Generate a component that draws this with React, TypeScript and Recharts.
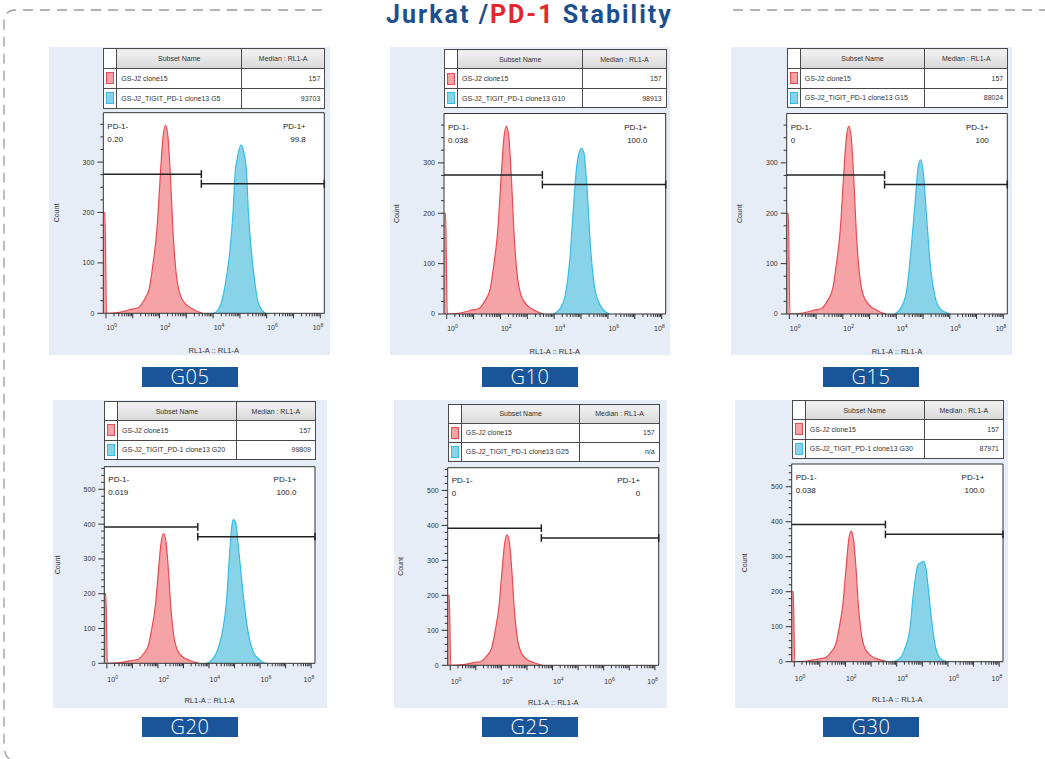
import React from 'react';
import {
  ComposedChart,
  Area,
  XAxis,
  YAxis,
  CartesianGrid,
  ReferenceLine,
  ReferenceArea,
  Label,
} from 'recharts';

// ---------------- DATA (x = log10 of RL1-A, y = count) ----------------
const panelIds = ['G05', 'G10', 'G15', 'G20', 'G25', 'G30'];
const controlName = 'GS-J2 clone15';
const controlMedian = '157';
const sampleNames = [
  'GS-J2_TIGIT_PD-1 clone13 G5',
  'GS-J2_TIGIT_PD-1 clone13 G10',
  'GS-J2_TIGIT_PD-1 clone13 G15',
  'GS-J2_TIGIT_PD-1 clone13 G20',
  'GS-J2_TIGIT_PD-1 clone13 G25',
  'GS-J2_TIGIT_PD-1 clone13 G30',
];
const sampleMedians = ['93703', '98913', '88024', '99809', 'n/a', '87971'];
const negPct = ['0.20', '0.038', '0', '0.019', '0', '0.038'];
const posPct = ['99.8', '100.0', '100', '100.0', '0', '100.0'];

// control (red) histogram, shared by every panel
const redLog = [-0.1, -0.04, 0.02, 0.5, 0.87, 1.2, 1.42, 1.62, 1.76, 1.9, 2.03, 2.12, 2.22, 2.31, 2.41, 2.5, 2.6, 2.76, 2.98, 3.25, 3.6];
const redCount = [200, 200, 0, 2, 7, 11, 26, 50, 100, 165, 275, 345, 373, 352, 268, 165, 90, 38, 18, 8, 0];

// sample (blue) histograms
const g05Log = [4.01, 4.19, 4.44, 4.63, 4.75, 4.82, 4.9, 5.04, 5.19, 5.25, 5.31, 5.4, 5.5, 5.69, 5.94];
const g05Count = [0, 7, 53, 127, 207, 278, 307, 334, 307, 278, 207, 140, 87, 20, 0];
const g10Log = [3.97, 4.22, 4.4, 4.59, 4.71, 4.84, 4.94, 5.02, 5.11, 5.21, 5.36, 5.52, 5.71, 5.89, 6.08];
const g10Count = [0, 11, 34, 114, 207, 293, 322, 329, 319, 260, 127, 48, 18, 5, 0];
const g15Log = [3.95, 4.2, 4.39, 4.57, 4.7, 4.82, 4.91, 5.01, 5.14, 5.29, 5.45, 5.63, 6.01];
const g15Count = [0, 15, 48, 140, 220, 293, 306, 280, 187, 87, 34, 11, 0];
const g20Log = [3.91, 4.17, 4.36, 4.56, 4.69, 4.79, 4.89, 4.95, 5.04, 5.15, 5.28, 5.41, 5.54, 5.73, 5.93, 6.12, 6.26];
const g20Count = [0, 14, 43, 105, 182, 296, 392, 413, 406, 335, 239, 153, 86, 33, 14, 2, 0];
const g25Log: number[] = [];
const g25Count: number[] = [];
const g30Log = [3.87, 4.13, 4.32, 4.52, 4.62, 4.71, 4.84, 4.94, 5.04, 5.14, 5.23, 5.37, 5.5, 5.69, 5.95];
const g30Count = [0, 10, 38, 96, 172, 230, 278, 283, 287, 268, 211, 115, 48, 10, 0];

const blueLogs = [g05Log, g10Log, g15Log, g20Log, g25Log, g30Log];
const blueCounts = [g05Count, g10Count, g15Count, g20Count, g25Count, g30Count];

// gate boundary (log10) and gate bar heights per row
const gateLog = 3.56;
const gateNegY = [276, 392];
const gatePosY = [257, 364];

// axis ticks
const xDomain = [-0.1, 8.15];
const xDecades = [0, 1, 2, 3, 4, 5, 6, 7, 8];
const xLabelled = [0, 2, 4, 6, 8];
const yMax = [398, 565];
const yMajor = [
  [0, 100, 200, 300],
  [0, 100, 200, 300, 400, 500],
];
const yMinorStep = [25, 20];

// ---------------- LAYOUT ----------------
type Box = { x: number; y: number; w: number; h: number };
type Layout = { bg: Box; plot: { l: number; t: number; r: number; b: number }; table: Box; tag: { x: number; y: number }; row: number };

const layouts: Layout[] = [
  { bg: { x: 49, y: 47, w: 281, h: 308 }, plot: { l: 103.3, t: 112.7, r: 324.3, b: 313.3 }, table: { x: 103.3, y: 48.3, w: 221, h: 59.4 }, tag: { x: 142, y: 367 }, row: 0 },
  { bg: { x: 390, y: 47, w: 280, h: 308 }, plot: { l: 444, t: 113.5, r: 665.7, b: 314 }, table: { x: 444, y: 49, w: 221.7, h: 58.5 }, tag: { x: 482, y: 367 }, row: 0 },
  { bg: { x: 731, y: 47, w: 281, h: 308 }, plot: { l: 786.7, t: 113.5, r: 1007.3, b: 314 }, table: { x: 786.7, y: 48.3, w: 220.6, h: 59 }, tag: { x: 823, y: 367 }, row: 0 },
  { bg: { x: 53, y: 400, w: 274, h: 308 }, plot: { l: 104.3, t: 466.7, r: 315, b: 663.3 }, table: { x: 104, y: 401, w: 211, h: 58 }, tag: { x: 142, y: 717 }, row: 1 },
  { bg: { x: 394, y: 400, w: 273, h: 308 }, plot: { l: 447.7, t: 467.7, r: 658.7, b: 665.3 }, table: { x: 447.7, y: 404, w: 211, h: 57 }, tag: { x: 482, y: 717 }, row: 1 },
  { bg: { x: 735, y: 400, w: 273, h: 308 }, plot: { l: 791.7, t: 464, r: 1003, b: 661.7 }, table: { x: 791.7, y: 400, w: 211.3, h: 58 }, tag: { x: 823, y: 717 }, row: 1 },
];

const FONT = '"Liberation Sans", Arial, Helvetica, sans-serif';
const RED_STROKE = '#ec4a52';
const RED_FILL = '#f5a3a6';
const BLUE_STROKE = '#35bde5';
const BLUE_FILL = '#88d3e8';
const PANEL_BG = '#e7edf6';

const xMinor: number[] = [];
for (let n = 0; n < 8; n++) for (let k = 2; k <= 9; k++) xMinor.push(n + Math.log10(k));
const xTicks = [...xDecades, ...xMinor].sort((a, b) => a - b);

const yTicksFor = (row: number) => {
  const t: number[] = [];
  for (let v = 0; v < yMax[row]; v += yMinorStep[row]) t.push(v);
  return t;
};

const makeXTick = (dy: number) => (props: any) => {
  const { x, y, payload } = props;
  const v = payload.value as number;
  const r = Math.round(v);
  const major = Math.abs(v - r) < 1e-6;
  const lab = major && xLabelled.includes(r);
  const last = r === 8;
  return (
    <g>
      <line x1={x} x2={x} y1={y} y2={y + (major ? 5 : 3)} stroke="#333" strokeWidth={1} />
      {lab && (
        <text x={last ? x + 3 : x + 0.5} y={y + dy} textAnchor={last ? 'end' : 'start'} fontSize={7} fill="#333" fontFamily={FONT}>
          10
          <tspan dy={-3} fontSize={5}>
            {r}
          </tspan>
        </text>
      )}
    </g>
  );
};

const makeYTick = (majors: number[]) => (props: any) => {
  const { x, y, payload } = props;
  const v = payload.value as number;
  const major = majors.includes(v);
  return (
    <g>
      <line x1={x - (major ? 6 : 3)} x2={x} y1={y} y2={y} stroke="#333" strokeWidth={1} />
      {major && (
        <text x={x - 9} y={y} dy="0.35em" textAnchor="end" fontSize={7} fill="#333" fontFamily={FONT}>
          {v}
        </text>
      )}
    </g>
  );
};

const xTitle = (props: any) => {
  const vb = props.viewBox || {};
  return (
    <text x={vb.x + vb.width / 2} y={vb.y + 40} textAnchor="middle" fontSize={7.5} fill="#333" fontFamily={FONT}>
      RL1-A :: RL1-A
    </text>
  );
};

const yTitle = (props: any) => {
  const vb = props.viewBox || {};
  const cx = vb.x + vb.width - 47;
  const cy = vb.y + vb.height / 2;
  return (
    <text x={cx} y={cy} transform={`rotate(-90 ${cx} ${cy})`} textAnchor="middle" dy="0.35em" fontSize={7} fill="#333" fontFamily={FONT}>
      Count
    </text>
  );
};

const gateText = (neg: string, pos: string, row: number) => (props: any) => {
  const vb = props.viewBox || {};
  const y1 = vb.y + (row === 0 ? 16 : 15.5);
  const y2 = vb.y + (row === 0 ? 29 : 28.5);
  const xr = vb.x + vb.width - 18.5;
  return (
    <g fontSize={8} fill="#222" fontFamily={FONT}>
      <text x={vb.x + 4} y={y1}>PD-1-</text>
      <text x={vb.x + 4} y={y2}>{neg}</text>
      <text x={xr} y={y1} textAnchor="end">PD-1+</text>
      <text x={xr} y={y2} textAnchor="end">{pos}</text>
    </g>
  );
};

function buildRows(i: number) {
  const rows: { x: number; red?: number; blue?: number }[] = [];
  redLog.forEach((x, k) => rows.push({ x, red: redCount[k] }));
  blueLogs[i].forEach((x, k) => rows.push({ x, blue: blueCounts[i][k] }));
  rows.sort((a, b) => a.x - b.x);
  return rows;
}

function Swatch({ stroke, fill }: { stroke: string; fill: string }) {
  return <div style={{ width: 6, height: 10, border: `1px solid ${stroke}`, background: fill, margin: '0 auto' }} />;
}

function LegendTable({ box, i }: { box: Box; i: number }) {
  const sw = 13;
  const nameW = (box.w - sw) * 0.6;
  const medW = box.w - sw - nameW;
  const hh = box.h * 0.33;
  const rh = (box.h - hh) / 2;
  const cell: React.CSSProperties = { border: '1px solid #4a4a4a', padding: '0 4px', whiteSpace: 'nowrap', overflow: 'hidden', color: '#333' };
  return (
    <table
      style={{
        position: 'absolute',
        left: box.x,
        top: box.y,
        width: box.w,
        height: box.h,
        borderCollapse: 'collapse',
        tableLayout: 'fixed',
        fontFamily: FONT,
        fontSize: 7,
        background: '#fff',
        border: '1.5px solid #444',
      }}
    >
      <colgroup>
        <col style={{ width: sw }} />
        <col style={{ width: nameW }} />
        <col style={{ width: medW }} />
      </colgroup>
      <tbody>
        <tr style={{ height: hh }}>
          <td style={{ ...cell, padding: 0, background: '#fff' }} />
          <td style={{ ...cell, textAlign: 'center', background: 'linear-gradient(#f2f2f2, #d9d9d9)' }}>Subset Name</td>
          <td style={{ ...cell, textAlign: 'center', background: 'linear-gradient(#f2f2f2, #d9d9d9)' }}>Median : RL1-A</td>
        </tr>
        <tr style={{ height: rh }}>
          <td style={{ ...cell, padding: 0 }}>
            <Swatch stroke={RED_STROKE} fill={RED_FILL} />
          </td>
          <td style={cell}>{controlName}</td>
          <td style={{ ...cell, textAlign: 'right' }}>{controlMedian}</td>
        </tr>
        <tr style={{ height: rh }}>
          <td style={{ ...cell, padding: 0 }}>
            <Swatch stroke={BLUE_STROKE} fill={BLUE_FILL} />
          </td>
          <td style={cell}>{sampleNames[i]}</td>
          <td style={{ ...cell, textAlign: 'right' }}>{sampleMedians[i]}</td>
        </tr>
      </tbody>
    </table>
  );
}

function Panel({ i }: { i: number }) {
  const L = layouts[i];
  const row = L.row;
  const { bg, plot } = L;
  const rows = buildRows(i);
  const hasBlue = blueLogs[i].length > 0;
  const cap = row === 0 ? 8 : 11;
  const gN = gateNegY[row];
  const gP = gatePosY[row];
  const gateStroke = '#222';
  return (
    <>
      <div style={{ position: 'absolute', left: bg.x, top: bg.y, width: bg.w, height: bg.h, background: PANEL_BG }} />
      <div style={{ position: 'absolute', left: bg.x, top: bg.y, width: bg.w, height: bg.h }}>
        <ComposedChart
          width={bg.w}
          height={bg.h}
          data={rows}
          margin={{ top: plot.t - bg.y, right: bg.x + bg.w - plot.r, bottom: 0, left: 0 }}
        >
          <CartesianGrid horizontal={false} vertical={false} fill="#ffffff" />
          <XAxis
            type="number"
            dataKey="x"
            domain={xDomain}
            allowDataOverflow
            ticks={xTicks}
            interval={0}
            tick={makeXTick(row === 0 ? 17 : 19)}
            tickLine={false}
            axisLine={false}
            tickSize={0}
            tickMargin={0}
            height={bg.y + bg.h - plot.b}
          >
            <Label content={xTitle} />
          </XAxis>
          <YAxis
            type="number"
            domain={[0, yMax[row]]}
            allowDataOverflow
            ticks={yTicksFor(row)}
            interval={0}
            tick={makeYTick(yMajor[row])}
            tickLine={false}
            axisLine={false}
            tickSize={0}
            tickMargin={0}
            width={plot.l - bg.x}
          >
            <Label content={yTitle} />
          </YAxis>
          <Area
            type="monotone"
            dataKey="red"
            stroke={RED_STROKE}
            strokeWidth={1.2}
            fill={RED_FILL}
            fillOpacity={1}
            connectNulls
            dot={false}
            activeDot={false}
            isAnimationActive={false}
          />
          {hasBlue && (
            <Area
              type="monotone"
              dataKey="blue"
              stroke={BLUE_STROKE}
              strokeWidth={1.2}
              fill={BLUE_FILL}
              fillOpacity={1}
              connectNulls
              dot={false}
              activeDot={false}
              isAnimationActive={false}
            />
          )}
          <ReferenceArea x1={xDomain[0]} x2={xDomain[1]} y1={0} y2={yMax[row]} fill="none" stroke="#333" strokeWidth={1} fillOpacity={0}>
            <Label content={gateText(negPct[i], posPct[i], row)} />
          </ReferenceArea>
          <ReferenceLine segment={[{ x: xDomain[0], y: gN }, { x: gateLog, y: gN }]} stroke={gateStroke} strokeWidth={1.5} />
          <ReferenceLine segment={[{ x: gateLog, y: gN - cap }, { x: gateLog, y: gN + cap }]} stroke={gateStroke} strokeWidth={1.5} />
          <ReferenceLine segment={[{ x: gateLog, y: gP }, { x: xDomain[1], y: gP }]} stroke={gateStroke} strokeWidth={1.5} />
          <ReferenceLine segment={[{ x: gateLog, y: gP - cap }, { x: gateLog, y: gP + cap }]} stroke={gateStroke} strokeWidth={1.5} />
          <ReferenceLine segment={[{ x: xDomain[1], y: gP - cap }, { x: xDomain[1], y: gP + cap }]} stroke={gateStroke} strokeWidth={1.5} />
        </ComposedChart>
      </div>
      <LegendTable box={L.table} i={i} />
      <div
        style={{
          position: 'absolute',
          left: L.tag.x,
          top: L.tag.y,
          width: 96,
          height: 20,
          background: '#1a5599',
          color: '#fff',
          fontFamily: '"Open Sans", sans-serif',
          fontWeight: 300,
          fontSize: 20,
          lineHeight: '20px',
          textAlign: 'center',
          letterSpacing: 0.5,
        }}
      >
        {panelIds[i]}
      </div>
    </>
  );
}

export default function App() {
  return (
    <div
      style={{
        position: 'absolute',
        left: 0,
        top: 0,
        width: 1045,
        height: 759,
        background: '#fff',
        overflow: 'hidden',
        fontFamily: FONT,
      }}
    >
      <svg width={1045} height={759} style={{ position: 'absolute', left: 0, top: 0 }}>
        <path
          d="M 322 10 L 16 10 Q 4 10 4 22 L 4 745 Q 4 762 20 762 L 1045 762"
          fill="none"
          stroke="#9a9a9a"
          strokeWidth={1.3}
          strokeDasharray="10 7"
        />
        <path d="M 733 10 L 1045 10" fill="none" stroke="#9a9a9a" strokeWidth={1.3} strokeDasharray="10 7" />
      </svg>
      <div
        style={{
          position: 'absolute',
          left: 7,
          top: 0,
          width: 1045,
          textAlign: 'center',
          fontFamily: 'Roboto, "Open Sans", sans-serif',
          fontWeight: 700,
          fontSize: 25,
          lineHeight: 'normal',
          color: '#1d4f8f',
          letterSpacing: 2,
          whiteSpace: 'nowrap',
        }}
      >
        Jurkat /<span style={{ color: '#e3262b' }}>PD-1</span> Stability
      </div>
      {panelIds.map((_, i) => (
        <Panel key={i} i={i} />
      ))}
    </div>
  );
}
